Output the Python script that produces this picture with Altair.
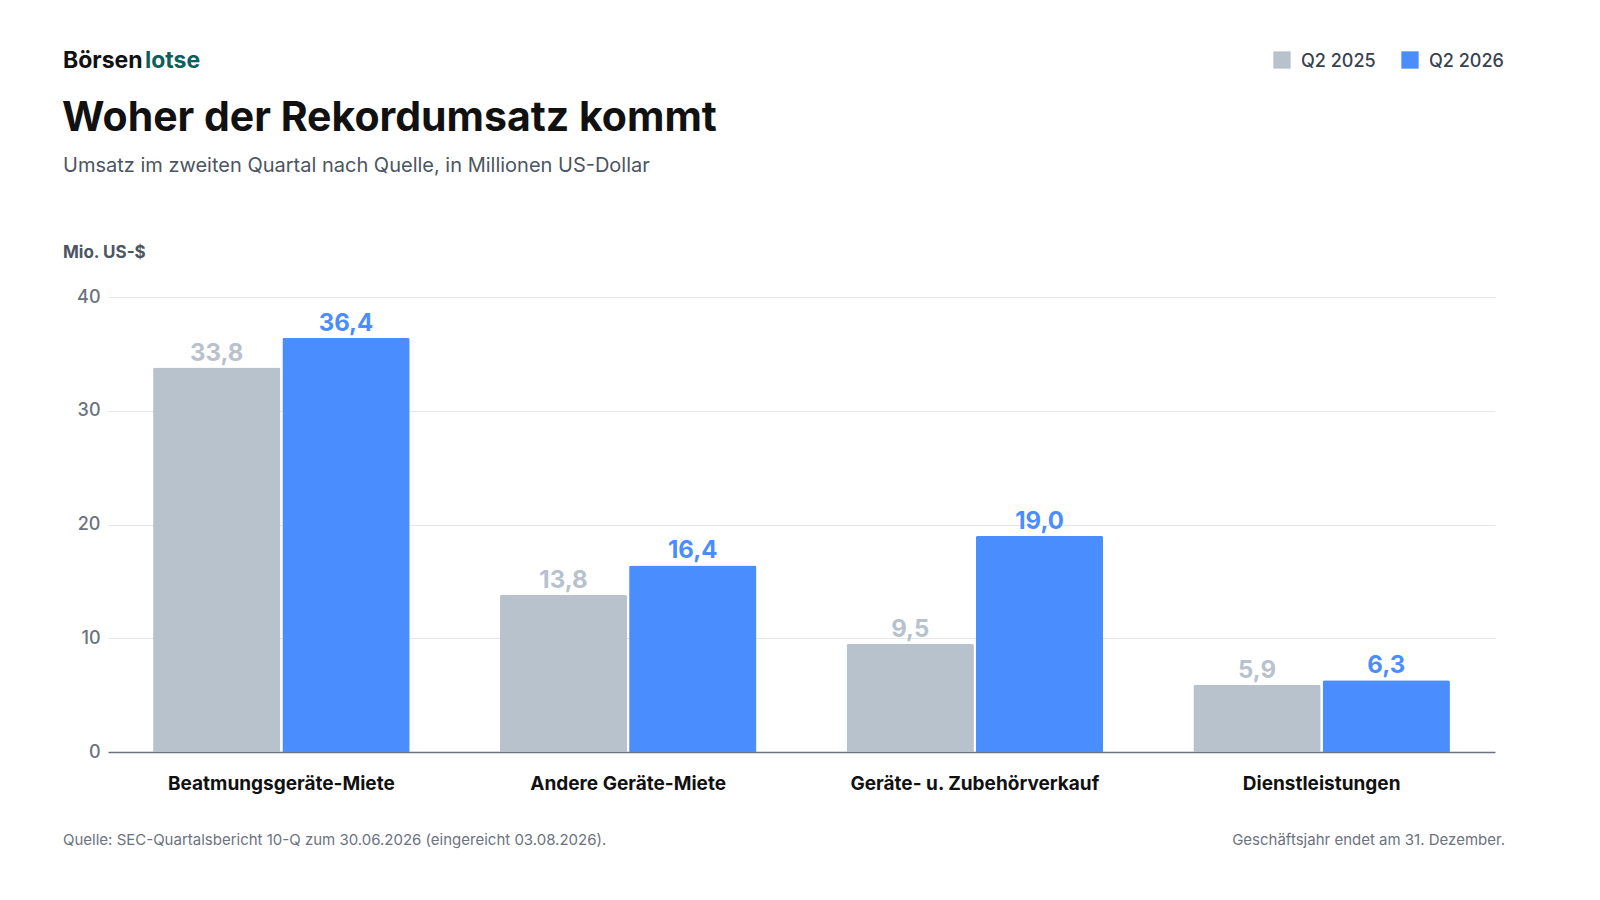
import altair as alt
import pandas as pd

categories = ["Beatmungsgeräte-Miete", "Andere Geräte-Miete", "Geräte- u. Zubehörverkauf", "Dienstleistungen"]
q2_2025 = [33.8, 13.8, 9.5, 5.9]
q2_2026 = [36.4, 16.4, 19.0, 6.3]
series = ["Q2 2025", "Q2 2026"]
colors = ["#b8c2cd", "#4a8dff"]
label_colors = ["#b8c2cd", "#3f86f7"]

rows = []
for c, a, b in zip(categories, q2_2025, q2_2026):
    rows.append({"cat": c, "serie": series[0], "v": a, "lbl": f"{a:.1f}".replace(".", ",")})
    rows.append({"cat": c, "serie": series[1], "v": b, "lbl": f"{b:.1f}".replace(".", ",")})
df = pd.DataFrame(rows)

FONT = "Inter"
W, H = 1387, 455

x = alt.X("cat:N", sort=categories, title=None,
          scale=alt.Scale(paddingInner=0.26, paddingOuter=0.13),
          axis=alt.Axis(labelAngle=0, labelFontSize=19, labelFontWeight="bold", labelColor="#111111",
                        labelPadding=22, labelLimit=0, ticks=False, domainColor="#6b7280", domainWidth=1.5))
xoff = alt.XOffset("serie:N", sort=series, scale=alt.Scale(paddingInner=0.015))
y = alt.Y("v:Q", title=None, scale=alt.Scale(domain=[0, 40]),
          axis=alt.Axis(values=[0, 10, 20, 30, 40], labelFontSize=18, labelColor="#6b7280", labelFontWeight=500,
                        domain=False, ticks=False, gridColor="#e5e7eb", labelPadding=8))
col = alt.Color("serie:N", sort=series, scale=alt.Scale(domain=series, range=colors), legend=None)

bars = alt.Chart(df).mark_bar(cornerRadiusTopLeft=2, cornerRadiusTopRight=2).encode(x=x, xOffset=xoff, y=y, color=col)
labels = alt.Chart(df).mark_text(dy=-14, fontSize=24, fontWeight="bold", font=FONT).encode(
    x=x, xOffset=xoff, y=y, text="lbl:N",
    color=alt.Color("serie:N", sort=series, scale=alt.Scale(domain=series, range=label_colors), legend=None))

one = pd.DataFrame({"a": [0]})

def txt(t, xv, yv, size, color, weight="normal", align="left"):
    return alt.Chart(one).mark_text(text=t, fontSize=size, color=color, fontWeight=weight,
                                    align=align, baseline="alphabetic", font=FONT).encode(
        x=alt.value(xv), y=alt.value(yv))

def sq(xv, yv, color):
    return alt.Chart(one).mark_square(size=300, color=color, opacity=1, cornerRadius=3).encode(
        x=alt.value(xv), y=alt.value(yv))

extras = [
    txt("Börsen", -45, -229, 23, "#111111", "bold"),
    txt("lotse", 37, -229, 23, "#0f5e5e", "bold"),
    txt("Woher der Rekordumsatz kommt", -46, -166, 41, "#111111", "bold"),
    txt("Umsatz im zweiten Quartal nach Quelle, in Millionen US-Dollar", -45, -125, 20, "#4b5563"),
    txt("Mio. US-$", -45, -39, 17, "#4b5563", "bold"),
    txt("Quelle: SEC-Quartalsbericht 10-Q zum 30.06.2026 (eingereicht 03.08.2026).", -45, 548, 15, "#6b7280"),
    txt("Geschäftsjahr endet am 31. Dezember.", 1397, 548, 15, "#6b7280", align="right"),
    sq(1174, -237, colors[0]),
    txt("Q2 2025", 1193, -230, 18, "#374151", 500),
    sq(1302, -237, colors[1]),
    txt("Q2 2026", 1321, -230, 18, "#374151", 500),
]

chart = alt.layer(bars, labels, *extras).properties(
    width=W, height=H,
    autosize=alt.AutoSizeParams(type="none"),
    padding={"left": 100, "top": 289, "right": 80, "bottom": 110},
).configure(font=FONT, background="white").configure_view(stroke=None).configure_axisY(domain=False)

chart.save("out.html", embed_options={"renderer": "svg", "actions": False})
